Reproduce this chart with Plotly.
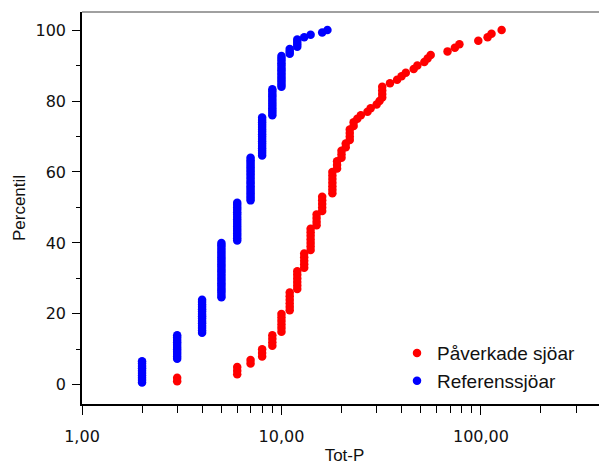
import plotly.graph_objects as go

# Tot-P values (distinct) and how many lakes have each value
paverkade_vals = [3, 6, 7, 8, 9, 10, 11, 12, 13, 14, 15, 16, 18, 19, 20, 21, 22,
                  23, 24, 25, 27, 28, 30, 31, 32, 35, 38, 40, 42, 46, 48, 52, 54,
                  56, 68, 74, 78, 97, 108, 113, 127]
paverkade_counts = [2, 3, 2, 3, 4, 6, 6, 6, 5, 7, 4, 5, 7, 3, 3, 2, 4,
                    2, 1, 1, 1, 1, 1, 1, 4, 1, 1, 1, 1, 1, 1, 1, 1,
                    1, 1, 1, 1, 1, 1, 1, 1]

referens_vals = [2, 3, 4, 5, 6, 7, 8, 9, 10, 11, 12, 13, 14, 16, 17]
referens_counts = [10, 11, 15, 24, 17, 19, 17, 12, 14, 3, 4, 1, 1, 1, 1]

x_major = [1, 10, 100]
x_labels = ["1,00", "10,00", "100,00"]
x_minor = [2, 3, 4, 5, 6, 7, 8, 9, 20, 30, 40, 50, 60, 70, 80, 90, 200, 300, 400]
y_major = [0, 20, 40, 60, 80, 100]
y_minor = [10, 30, 50, 70, 90]


def percentiles(vals, counts):
    # empirical cumulative percentile: rank / n * 100
    xs = []
    for v, c in zip(vals, counts):
        xs += [v] * c
    n = len(xs)
    ps = [100.0 * (i + 1) / n for i in range(n)]
    return xs, ps


px_, py_ = percentiles(paverkade_vals, paverkade_counts)
rx_, ry_ = percentiles(referens_vals, referens_counts)

fig = go.Figure()
fig.add_trace(go.Scatter(x=px_, y=py_, mode='markers', name='Påverkade sjöar',
                         marker=dict(color='#ff0000', size=8.5)))
fig.add_trace(go.Scatter(x=rx_, y=ry_, mode='markers', name='Referenssjöar',
                         marker=dict(color='#0000ff', size=8.5)))

tickfont = dict(family='DejaVu Sans', size=16, color='#111111')
titlefont = dict(family='Liberation Sans', size=17, color='#111111')

# the page body adds 8px of margin, so the figure is 8px smaller than the window
fig.update_layout(
    width=599, height=457,
    margin=dict(l=74, r=0, t=4, b=61),
    plot_bgcolor='white', paper_bgcolor='white',
    showlegend=True,
    legend=dict(x=0.6, xanchor='left', y=0.094, yanchor='middle',
                font=dict(family='Liberation Sans', size=19, color='#111111'),
                bgcolor='rgba(0,0,0,0)', tracegroupgap=0),
    xaxis=dict(type='log', range=[0, 2.632], showgrid=False, zeroline=False,
               automargin=False,
               showline=True, linecolor='black', linewidth=1.6,
               tickmode='array', tickvals=x_major, ticktext=x_labels,
               ticks='outside', ticklen=9, tickwidth=1.2, tickcolor='black',
               tickfont=tickfont, ticklabelstandoff=8,
               minor=dict(tickmode='array', tickvals=x_minor, ticks='outside',
                          ticklen=7, tickwidth=1.2, tickcolor='black'),
               title=dict(text='Tot-P', font=titlefont, standoff=12)),
    yaxis=dict(range=[-5.4, 105.1], showgrid=False, zeroline=False,
               automargin=False,
               showline=True, linecolor='black', linewidth=1.6,
               tickmode='array', tickvals=y_major,
               ticks='outside', ticklen=8, tickwidth=1.2, tickcolor='black',
               tickfont=tickfont, ticklabelstandoff=3,
               minor=dict(tickmode='array', tickvals=y_minor, ticks='outside',
                          ticklen=4, tickwidth=1.2, tickcolor='black'),
               title=dict(text='Percentil', font=titlefont, standoff=6)),
)

# grey frame line along the top
fig.add_shape(type='line', xref='paper', yref='paper', x0=0, x1=1, y0=1, y1=1,
              line=dict(color='#808080', width=1.3))

fig.write_html("out.html")
